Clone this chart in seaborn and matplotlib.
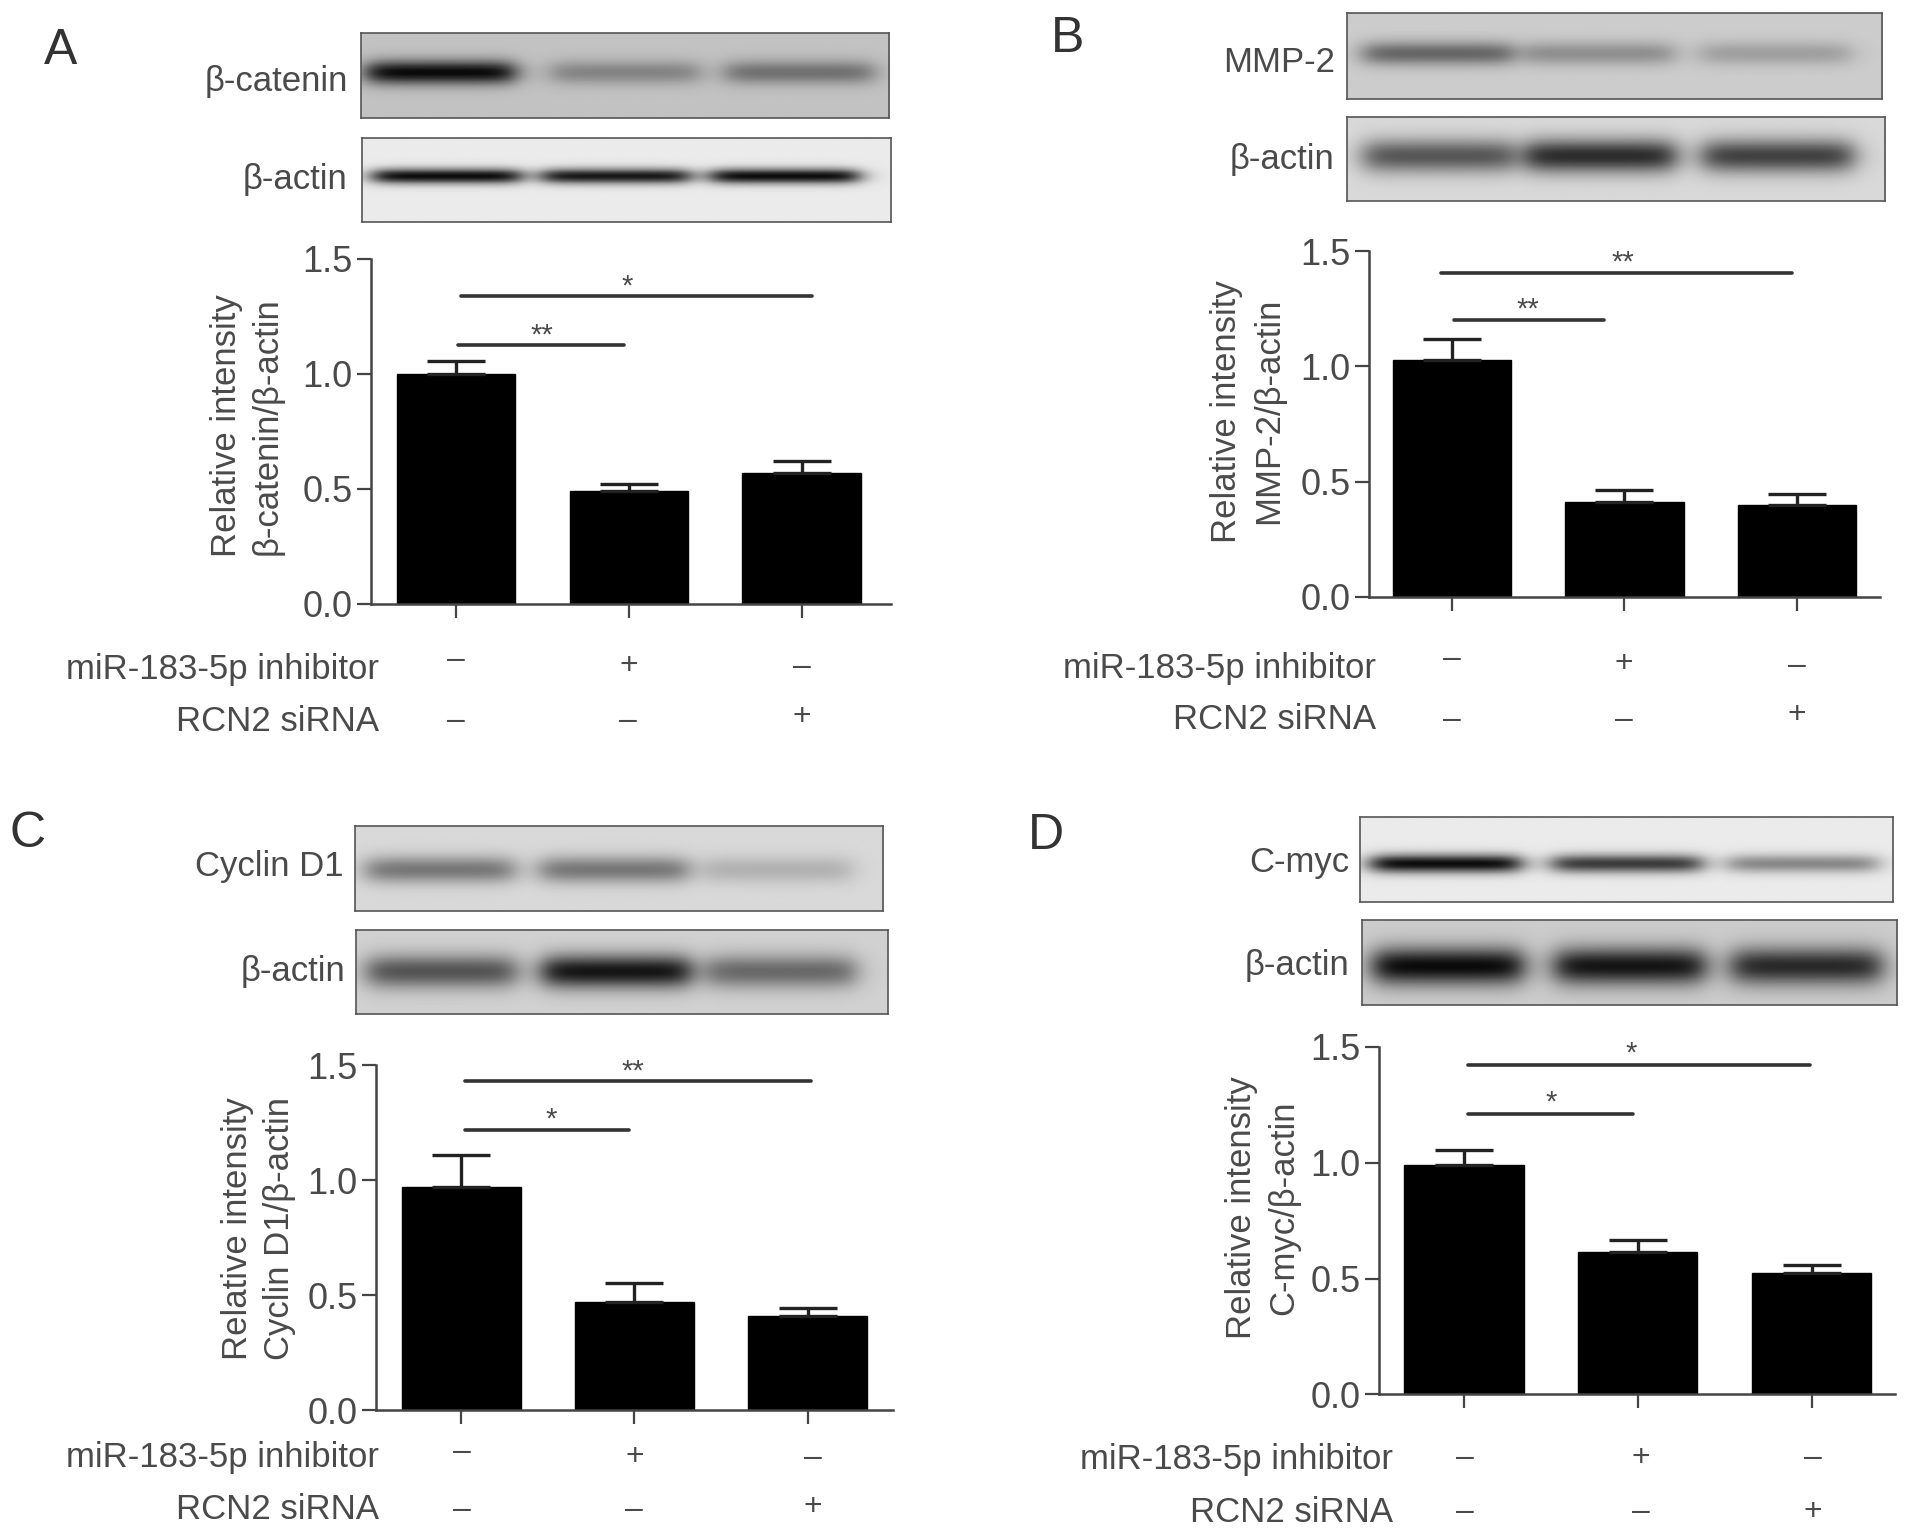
import numpy as np
import pandas as pd
import matplotlib
matplotlib.use("Agg")
import matplotlib.pyplot as plt
import seaborn as sns

W, H = 1913, 1537
F = W / 1568
sns.set_theme(style="ticks")
plt.rcParams['font.family'] = ['Liberation Sans', 'DejaVu Sans']
GREY = "#4a4a4a"

groups = ["g1", "g2", "g3"]
mean_a = [1.0, 0.49, 0.57]; err_a = [0.055, 0.03, 0.05]
mean_b = [1.03, 0.41, 0.40]; err_b = [0.09, 0.055, 0.045]
mean_c = [0.97, 0.47, 0.41]; err_c = [0.14, 0.085, 0.035]
mean_d = [0.99, 0.615, 0.525]; err_d = [0.065, 0.05, 0.035]
inhibitor_marks = ["–", "+", "–"]
sirna_marks = ["–", "–", "+"]
yticks = [0.0, 0.5, 1.0, 1.5]

panels = [
    dict(letter="A", lp=(50, 42), mean=mean_a, err=err_a, target="β-catenin",
         spine=304, right=730, y0=495, top=212, c0=374, step=141.5,
         sig=[(0.03, 2.06, 1.336, "*", 0.99, 1.38), (0.01, 0.97, 1.124, "**", 0.495, 1.165)],
         yl=(186, 219, 349),
         blot1=((296, 27, 729, 97), 0.76, [.15, .5, .83], [.95, .32, .42], .47, .14, (285, 67)),
         blot2=((297, 113, 730, 182), 0.92, [.16, .48, .8], [.95, .9, .95], .46, .09, (285, 147)),
         rows=(311, 549, 591, [374, 515, 657], [374, 515, 657], [541, 546, 547], [591, 591, 588])),
    dict(letter="B", lp=(875, 32), mean=mean_b, err=err_b, target="MMP-2",
         spine=1122, right=1541, y0=489, top=206, c0=1190, step=141.5,
         sig=[(-0.06, 1.97, 1.405, "**", 0.99, 1.45), (0.01, 0.88, 1.203, "**", 0.44, 1.245)],
         yl=(1005, 1040, 337),
         blot1=((1104, 11, 1543, 81), 0.80, [.17, .47, .8], [.5, .3, .22], .47, .14, (1094, 51)),
         blot2=((1104, 96, 1545, 165), 0.85, [.17, .47, .8], [.6, .8, .7], .47, .2, (1094, 131)),
         rows=(1128, 548, 590, [1190, 1331, 1473], [1190, 1331, 1473], [540, 544, 546], [590, 590, 586])),
    dict(letter="C", lp=(23, 684), mean=mean_c, err=err_c, target="Cyclin D1",
         spine=308, right=732, y0=1156, top=873, c0=378, step=142,
         sig=[(0.02, 2.02, 1.43, "**", 0.99, 1.47), (0.02, 0.97, 1.22, "*", 0.52, 1.265)],
         yl=(195, 229, 1007),
         blot1=((291, 677, 724, 747), 0.85, [.16, .49, .8], [.45, .45, .18], .52, .16, (282, 710)),
         blot2=((292, 762, 728, 831), 0.82, [.16, .49, .8], [.6, .9, .5], .5, .2, (283, 796)),
         rows=(311, 1195, 1237, [379, 520, 666], [379, 520, 666], [1190, 1194, 1195], [1238, 1238, 1235])),
    dict(letter="D", lp=(857, 685), mean=mean_d, err=err_d, target="C-myc",
         spine=1130, right=1553, y0=1143, top=858, c0=1200, step=142.5,
         sig=[(0.02, 1.99, 1.42, "*", 0.96, 1.47), (0.02, 0.97, 1.21, "*", 0.5, 1.26)],
         yl=(1018, 1052, 990),
         blot1=((1115, 670, 1552, 739), 0.92, [.16, .5, .83], [.95, .75, .42], .55, .11, (1106, 707)),
         blot2=((1116, 754, 1555, 824), 0.80, [.16, .5, .83], [.95, .9, .8], .55, .22, (1106, 791)),
         rows=(1142, 1196, 1240, [1201, 1345, 1486], [1201, 1345, 1486], [1195, 1195, 1195], [1239, 1239, 1239])),
]

fig = plt.figure(figsize=(W / 100, H / 100), dpi=100, facecolor="white")


def txt(x, y, s, **kw):
    kw.setdefault("color", GREY)
    kw.setdefault("va", "center")
    fig.text(x * F / W, 1 - y * F / H, s, **kw)


def blot(rect, bg, centres, dark, yc, sy, lab_pos, label):
    x0, y0, x1, y1 = rect
    ax = fig.add_axes([x0 * F / W, 1 - y1 * F / H, (x1 - x0) * F / W, (y1 - y0) * F / H])
    xx, yy = np.meshgrid(np.linspace(0, 1, 440), np.linspace(0, 1, 70))
    img = np.full(xx.shape, bg, dtype=float)
    for c, d in zip(centres, dark):
        prof = 0.5 * (np.tanh((xx - (c - .14)) / .028) - np.tanh((xx - (c + .14)) / .028))
        img -= d * bg * prof * np.exp(-((yy - yc) / sy) ** 2)
    ax.imshow(img, cmap="gray", vmin=0, vmax=1, aspect="auto", extent=(0, 1, 1, 0))
    ax.set_xticks([]); ax.set_yticks([])
    for s in ax.spines.values():
        s.set_color("#555555"); s.set_linewidth(1.2)
    txt(lab_pos[0], lab_pos[1], label, ha="right", fontsize=25)


for p in panels:
    ax = fig.add_axes([p["spine"] * F / W, 1 - p["y0"] * F / H,
                       (p["right"] - p["spine"]) * F / W, (p["y0"] - p["top"]) * F / H])
    df = pd.DataFrame({"group": groups, "value": p["mean"]})
    sns.barplot(data=df, x="group", y="value", color="black", saturation=1,
                width=0.685, errorbar=None, edgecolor="black", linewidth=1, ax=ax)
    ax.errorbar(range(3), p["mean"], yerr=[[0, 0, 0], p["err"]], fmt="none",
                ecolor="#222222", elinewidth=2.4, capsize=21, capthick=2.4, zorder=1)
    ax.set_xlim((p["spine"] - p["c0"]) / p["step"], (p["right"] - p["c0"]) / p["step"])
    ax.set_ylim(0, 1.5)
    ax.set_yticks(yticks)
    ax.set_yticklabels([f"{t:.1f}" for t in yticks])
    ax.set_xticks(range(3)); ax.set_xticklabels([])
    ax.set_xlabel(""); ax.set_ylabel("")
    ax.patch.set_alpha(0)
    ax.tick_params(axis="both", length=10, width=1.6, color="#444444", pad=3,
                   labelsize=26, labelcolor=GREY)
    for s in ["top", "right"]:
        ax.spines[s].set_visible(False)
    for s in ["left", "bottom"]:
        ax.spines[s].set_color("#444444"); ax.spines[s].set_linewidth(1.8)
    for a, b, y, star, sx, sy in p["sig"]:
        ax.plot([a, b], [y, y], color="#333333", lw=2.6, clip_on=False)
        ax.text(sx, sy, star, ha="center", va="center", fontsize=21, color=GREY)
    xa, xb, yc = p["yl"]
    txt(xa, yc, "Relative intensity", rotation=90, ha="center", fontsize=25)
    txt(xb, yc, f"{p['target']}/β-actin", rotation=90, ha="center", fontsize=25)
    txt(p["lp"][0], p["lp"][1], p["letter"], ha="center", fontsize=36, color="#333333")
    blot(*p["blot1"], p["target"])
    blot(*p["blot2"], "β-actin")
    rx, r1, r2, xs1, xs2, ys1, ys2 = p["rows"]
    txt(rx, r1, "miR-183-5p inhibitor", ha="right", fontsize=25)
    txt(rx, r2, "RCN2 siRNA", ha="right", fontsize=25)
    for x, y, m in zip(xs1, ys1, inhibitor_marks):
        txt(x, y, m, ha="center", fontsize=23)
    for x, y, m in zip(xs2, ys2, sirna_marks):
        txt(x, y, m, ha="center", fontsize=23)

fig.savefig("out.png", dpi=100)
